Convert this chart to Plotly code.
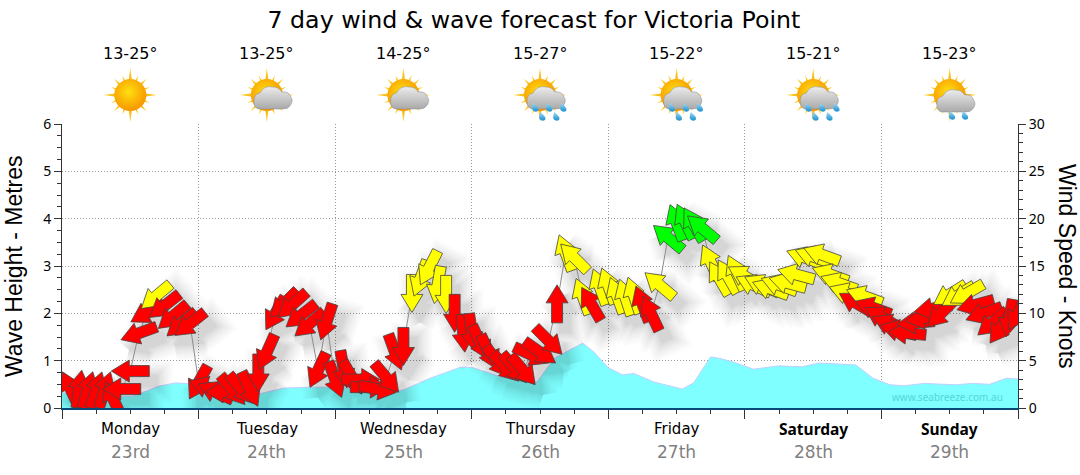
import math
from urllib.parse import quote

import plotly.graph_objects as go

# wind every 1.5 hours from Monday 01:30, knots and the bearing the arrow points to
wind_knots = [
    2.0, 2.0, 1.9, 1.9, 1.9, 0.95, 2.0, 3.9, 7.9, 10.1, 11.8, 10.8, 9.7, 8.9, 8.9, 2.7,
    2.2, 1.7, 1.7, 1.9, 2.0, 2.0, 3.7, 5.9, 10.0, 11.0, 10.9, 9.8, 8.9, 4.0, 9.1, 3.0,
    4.1, 3.2, 3.0, 2.2, 2.0, 3.2, 5.9, 6.5, 12.1, 13.7, 14.8, 13.0, 12.0, 10.0, 7.9, 8.0,
    6.9, 5.9, 4.9, 4.3, 4.2, 4.0, 5.6, 5.9, 7.1, 11.0, 16.4, 15.9, 11.8, 11.0, 12.8, 12.9,
    11.9, 11.7, 11.9, 11.0, 10.0, 13.0, 18.0, 19.6, 19.7, 19.4, 19.0, 15.4, 13.7, 13.9, 14.3, 13.9,
    13.0, 13.0, 12.6, 13.0, 13.2, 14.1, 15.9, 16.0, 16.2, 14.1, 13.2, 12.1, 11.1, 11.8, 10.6, 9.6,
    8.8, 8.2, 7.9, 9.0, 9.5, 10.5, 10.0, 12.0, 11.9, 12.1, 10.9, 10.0, 9.0, 8.5, 9.5, 10.0,
]
wind_bearing = [
    335, 8, 16, 18, 18, 335, 270, 270, 250, 240, 230, 232, 230, 230, 232, 209,
    290, 295, 270, 140, 140, 155, 180, 204, 210, 225, 228, 232, 230, 205, 198, 160,
    170, 150, 90, 90, 100, 140, 160, 180, 180, 200, 207, 190, 180, 180, 175, 172,
    155, 155, 143, 137, 140, 140, 115, 125, 135, 0, 340, 315, 340, 330, 340, 340,
    340, 342, 342, 340, 335, 310, 310, 340, 335, 330, 310, 335, 330, 330, 335, 300,
    295, 295, 290, 290, 285, 285, 290, 290, 290, 290, 290, 290, 300, 290, 290, 300,
    295, 285, 275, 265, 260, 260, 225, 238, 238, 240, 255, 250, 230, 215, 190, 210,
]
wind_hours = [1.5 * (i + 1) for i in range(len(wind_knots))]

wave_hours = [0, 5, 12.5, 17, 20, 24, 29.5, 34, 39, 43.5, 47.5, 52.5, 57, 60, 64.5, 70, 72, 77,
              83.5, 86.5, 91.5, 93.5, 96, 98.5, 100.5, 104, 109, 111, 114, 115.5, 118, 121.5,
              126, 130, 133, 139.5, 142.5, 145.5, 148, 151.5, 157, 160, 163, 166, 168]
wave_metres = [0.32, 0.25, 0.25, 0.46, 0.53, 0.5, 0.35, 0.28, 0.42, 0.44, 0.44, 0.4, 0.33, 0.38, 0.62, 0.86, 0.86, 0.66,
               0.55, 1.05, 1.37, 1.18, 0.85, 0.7, 0.73, 0.55, 0.4, 0.53, 1.08, 1.05, 0.97, 0.82,
               0.89, 0.87, 0.95, 0.91, 0.63, 0.49, 0.47, 0.52, 0.49, 0.52, 0.5, 0.63, 0.61]

days = ["Monday", "Tuesday", "Wednesday", "Thursday", "Friday", "Saturday", "Sunday"]
dates = ["23rd", "24th", "25th", "26th", "27th", "28th", "29th"]
temps = ["13-25°", "13-25°", "14-25°", "15-27°", "15-22°", "15-21°", "15-23°"]
icons = ["sun", "cloud", "cloud", "rain", "rain", "rain", "shower"]

PLOT_W = 956
PLOT_H = 284
WIDE = "DejaVu Sans"
BODY = "Noto Sans"


def colour(knots):
    if knots < 11.5:
        return "#ff0000"
    if knots < 17:
        return "#ffff00"
    return "#00ff00"


def arrow_xy(hour, knots, bearing, off_x=0, off_y=0):
    # arrow outline in pixels, turned and put back into axis units
    shape = [(19, 0), (1, 11), (1, 5.5), (-19, 5.5), (-19, -5.5), (1, -5.5), (1, -11), (19, 0)]
    rad = math.radians(bearing)
    xs, ys = [], []
    for along, side in shape:
        px = along * math.sin(rad) + side * math.cos(rad) + off_x
        py = along * math.cos(rad) - side * math.sin(rad) - off_y
        xs.append(hour + px * 168 / PLOT_W)
        ys.append(knots + py * 30 / PLOT_H)
    return xs, ys


def icon_uri(kind):
    rays = ""
    for i in range(16):
        a = i * 22.5
        r = 27 if i % 4 == 0 else (23 if i % 2 == 0 else 21)
        w = 3.6
        rays += f'<path d="M{27 - w} 27L27 {27 - r}L{27 + w} 27Z" transform="rotate({a} 27 27)" fill="url(#r)"/>'
    svg = ('<svg xmlns="http://www.w3.org/2000/svg" viewBox="0 0 54 54" width="54" height="54"><defs>'
           '<linearGradient id="r" x1="0" y1="0" x2="0" y2="1"><stop offset="0" stop-color="#ffd21e"/>'
           '<stop offset="1" stop-color="#e99a20"/></linearGradient>'
           '<radialGradient id="s" cx="0.45" cy="0.4" r="0.6"><stop offset="0" stop-color="#ffdf10"/>'
           '<stop offset="1" stop-color="#f79600"/></radialGradient>'
           '<linearGradient id="c" x1="0" y1="0" x2="0" y2="1"><stop offset="0" stop-color="#ececec"/>'
           '<stop offset="1" stop-color="#a9a9a9"/></linearGradient>'
           '<linearGradient id="d" x1="0" y1="0" x2="0" y2="1"><stop offset="0" stop-color="#9fdcf5"/>'
           '<stop offset="1" stop-color="#1b8fd0"/></linearGradient></defs>')
    svg += rays + '<circle cx="27" cy="27" r="16" fill="url(#s)"/>'
    if kind != "sun":
        top = 3 if kind == "shower" else 0
        svg += (f'<g transform="translate(0 {top})" stroke="#8a8a8a" stroke-width="0.5">'
                '<path d="M20 41Q14 41 14 33Q14 26 20 25Q24 17 33 19Q39 19 42 24Q49 23 51 29Q54 33 50 38Q48 41 43 41Z" fill="url(#c)"/></g>')
    if kind == "rain":
        spots = [(22, 40), (36, 40), (50, 40), (29, 49), (43, 49)]
    elif kind == "shower":
        spots = [(29, 48), (42, 48)]
    else:
        spots = []
    for x, y in spots:
        svg += f'<path d="M{x - 2} {y - 5}Q{x + 5} {y} {x + 3} {y + 3}Q{x - 1} {y + 5} {x - 3} {y + 1}Z" fill="url(#d)"/>'
    svg += "</svg>"
    return "data:image/svg+xml," + quote(svg)


fig = go.Figure()

fig.add_trace(go.Scatter(
    x=wave_hours, y=wave_metres, mode="lines", fill="tozeroy", fillcolor="#7fffff",
    line=dict(color="#c0d0ff", width=1), hoverinfo="skip", showlegend=False,
))
fig.add_trace(go.Scatter(
    x=[0, 168], y=[0, 30], yaxis="y2", mode="lines", line=dict(width=0),
    hoverinfo="skip", showlegend=False,
))

# soft drop shadow: a few widening strokes of the same arrow, all arrows in one path
for width, alpha in [(30, 0.012), (25, 0.014), (20, 0.016), (15, 0.02), (10, 0.024), (5, 0.026), (1, 0.028)]:
    xs, ys = [], []
    for h, k, b in zip(wind_hours, wind_knots, wind_bearing):
        ax, ay = arrow_xy(h, k, b, 8, 10)
        xs += ax + [None]
        ys += ay + [None]
    fig.add_trace(go.Scatter(
        x=xs, y=ys, yaxis="y2", mode="lines", fill="toself", fillcolor="#000000",
        line=dict(color="#000000", width=width), opacity=alpha, cliponaxis=False,
        hoverinfo="skip", showlegend=False,
    ))

fig.add_trace(go.Scatter(
    x=wind_hours, y=wind_knots, yaxis="y2", mode="lines",
    line=dict(color="#8c8c8c", width=1), hoverinfo="skip", showlegend=False,
))

for h, k, b in zip(wind_hours, wind_knots, wind_bearing):
    ax, ay = arrow_xy(h, k, b)
    fig.add_trace(go.Scatter(
        x=ax, y=ay, yaxis="y2", mode="lines", fill="toself", fillcolor=colour(k),
        line=dict(color="#444444", width=0.8), cliponaxis=False,
        hoverinfo="skip", showlegend=False,
    ))

annotations = []
images = []
for i in range(7):
    mid = 12 + i * 24
    annotations.append(dict(x=mid, xref="x", y=(408 - 53) / PLOT_H, yref="paper", yanchor="middle", text=temps[i],
                            showarrow=False, font=dict(family=WIDE, size=16, color="#000000")))
    if i >= 5:
        annotations.append(dict(x=mid, xref="x", y=(408 - 429) / PLOT_H, yref="paper", yanchor="middle",
                                text=f"<b>{days[i]}</b>", showarrow=False,
                                font=dict(family=BODY, size=15.5, color="#000000")))
    else:
        annotations.append(dict(x=mid, xref="x", y=(408 - 429) / PLOT_H, yref="paper", yanchor="middle",
                                text=days[i], showarrow=False, font=dict(family=WIDE, size=15, color="#000000")))
    annotations.append(dict(x=mid, xref="x", y=(408 - 452) / PLOT_H, yref="paper", yanchor="middle", text=dates[i],
                            showarrow=False, font=dict(family=WIDE, size=17, color="#808080")))
    images.append(dict(source=icon_uri(icons[i]), xref="x", x=mid, yref="paper", y=(408 - 95) / PLOT_H,
                       sizex=54 * 168 / PLOT_W, sizey=54 / PLOT_H, xanchor="center", yanchor="middle",
                       sizing="stretch", layer="above"))

annotations.append(dict(x=1, xref="paper", xanchor="right", y=0.04, yref="paper", yanchor="middle", xshift=-13,
                        text="www.seabreeze.com.au", showarrow=False,
                        font=dict(family=BODY, size=10, color="#55d5d8")))
annotations.append(dict(x=(14 - 62) / PLOT_W, xref="paper", y=(408 - 266) / PLOT_H, yref="paper", textangle=-90,
                        xanchor="center", yanchor="middle", text="Wave Height - Metres", showarrow=False,
                        font=dict(family="Liberation Sans", size=23, color="#000000")))
annotations.append(dict(x=(1067 - 62) / PLOT_W, xref="paper", y=(408 - 266) / PLOT_H, yref="paper", textangle=90,
                        xanchor="center", yanchor="middle", text="Wind Speed - Knots", showarrow=False,
                        font=dict(family="Liberation Sans", size=23, color="#000000")))

tick_font = dict(family=BODY, size=14, color="#000000")
fig.update_layout(
    width=1080, height=475, autosize=False,
    margin=dict(l=62, r=62, t=124, b=67),
    paper_bgcolor="#ffffff", plot_bgcolor="#ffffff",
    showlegend=False,
    title=dict(text="7 day wind &amp; wave forecast for Victoria Point", x=0.4944, xanchor="center",
               y=0.958, yanchor="middle", font=dict(family=WIDE, size=23.7, color="#000000")),
    xaxis=dict(range=[0, 168], tickvals=[24 * i for i in range(8)], showticklabels=False,
               ticks="outside", ticklen=9, tickcolor="#333333", showline=True, linecolor="#0a4a78", linewidth=1.5,
               showgrid=True, gridcolor="#999999", griddash="1px,2px", gridwidth=1, zeroline=False,
               minor=dict(dtick=6, ticks="outside", ticklen=4, tickcolor="#333333", showgrid=False)),
    yaxis=dict(range=[0, 6], dtick=1, ticks="outside", ticklen=7, tickcolor="#333333", tickfont=tick_font,
               showline=True, linecolor="#333333", showgrid=True, gridcolor="#999999", griddash="1px,2px",
               zeroline=False, minor=dict(dtick=0.25, ticks="outside", ticklen=4, tickcolor="#333333", showgrid=False)),
    yaxis2=dict(range=[0, 30], dtick=5, overlaying="y", side="right", ticks="outside", ticklen=7,
                tickcolor="#333333", tickfont=tick_font, showline=True, linecolor="#333333", showgrid=False,
                zeroline=False, minor=dict(dtick=1, ticks="outside", ticklen=4, tickcolor="#333333", showgrid=False)),
    annotations=annotations,
    images=images,
)

# drop the browser's default 8px body margin so the figure fills the window
fig.write_html("out.html", config={"displayModeBar": False}, post_script="document.body.style.margin = '0';")
